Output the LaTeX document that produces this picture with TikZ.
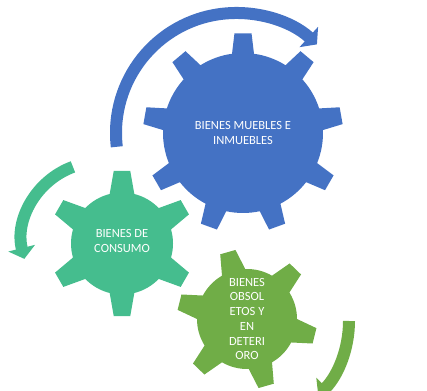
\documentclass[tikz,border=0pt]{standalone}
\usepackage{fontspec}
\setmainfont{Carlito}
\usepackage{tikz}
\usetikzlibrary{arrows.meta}

\definecolor{gearblue}{RGB}{68,114,196}
\definecolor{gearteal}{RGB}{69,189,142}
\definecolor{geargreen}{RGB}{112,173,71}

\begin{document}
\begin{tikzpicture}[
    x=1pt, y=1pt,
    gearlabel/.style={
        text=white,
        align=center,
        font=\fontsize{12.5}{14.7}\selectfont,
        inner sep=0pt
    },
    spinarrow/.style={
        draw=#1,
        line width=12pt,
        -{Triangle[length=11pt, width=27pt]}
    }
]

\useasboundingbox (0,0) rectangle (427,390);
\clip (0,0) rectangle (427,390);

% --- Gear centres ---
\coordinate (bluegear) at (243,257);
\coordinate (tealgear) at (122,146.5);
\coordinate (greengear) at (247,71);

% --- Blue gear: 9 teeth ---
\fill[gearblue, shift={(bluegear)}] (82.1:80)
  \foreach \a [evaluate=\a as \s using \a+7.9, evaluate=\a as \e using \a+32.1] in {90,130,...,410} {
    -- ({\a-4.9}:100) -- ({\a+4.9}:100) -- (\s:80) arc[start angle=\s, end angle=\e, radius=80pt]
  } -- cycle;

% --- Teal gear: 6 teeth ---
\fill[gearteal, shift={(tealgear)}] (76:51)
  \foreach \a [evaluate=\a as \s using \a+14, evaluate=\a as \e using \a+46] in {90,150,...,390} {
    -- ({\a-6.5}:73) -- ({\a+6.5}:73) -- (\s:51) arc[start angle=\s, end angle=\e, radius=51pt]
  } -- cycle;

% --- Green gear: 6 teeth ---
\fill[geargreen, shift={(greengear)}] (92:50)
  \foreach \a [evaluate=\a as \s using \a+14, evaluate=\a as \e using \a+46] in {106,166,...,406} {
    -- ({\a-6.5}:70) -- ({\a+6.5}:70) -- (\s:50) arc[start angle=\s, end angle=\e, radius=50pt]
  } -- cycle;

% --- Circular arrows ---
\draw[spinarrow=gearblue] (236,257) ++(186.6:120) arc[start angle=186.6, end angle=47.6, radius=120pt];
\draw[spinarrow=gearteal] (100,150) ++(110.3:78) arc[start angle=110.3, end angle=194, radius=78pt];
\draw[spinarrow=geargreen] (244,69) ++(0:105) arc[start angle=0, end angle=-45, radius=105pt];

% --- Labels ---
\node[gearlabel] (muebles) at (bluegear) {BIENES MUEBLES E\\INMUEBLES};
\node[gearlabel] (consumo) at ([yshift=2.5pt]tealgear) {BIENES DE\\CONSUMO};
\node[gearlabel] (obsoletos) at (greengear) {BIENES\\OBSOL\\ETOS Y\\EN\\DETERI\\ORO};

\end{tikzpicture}
\end{document}
